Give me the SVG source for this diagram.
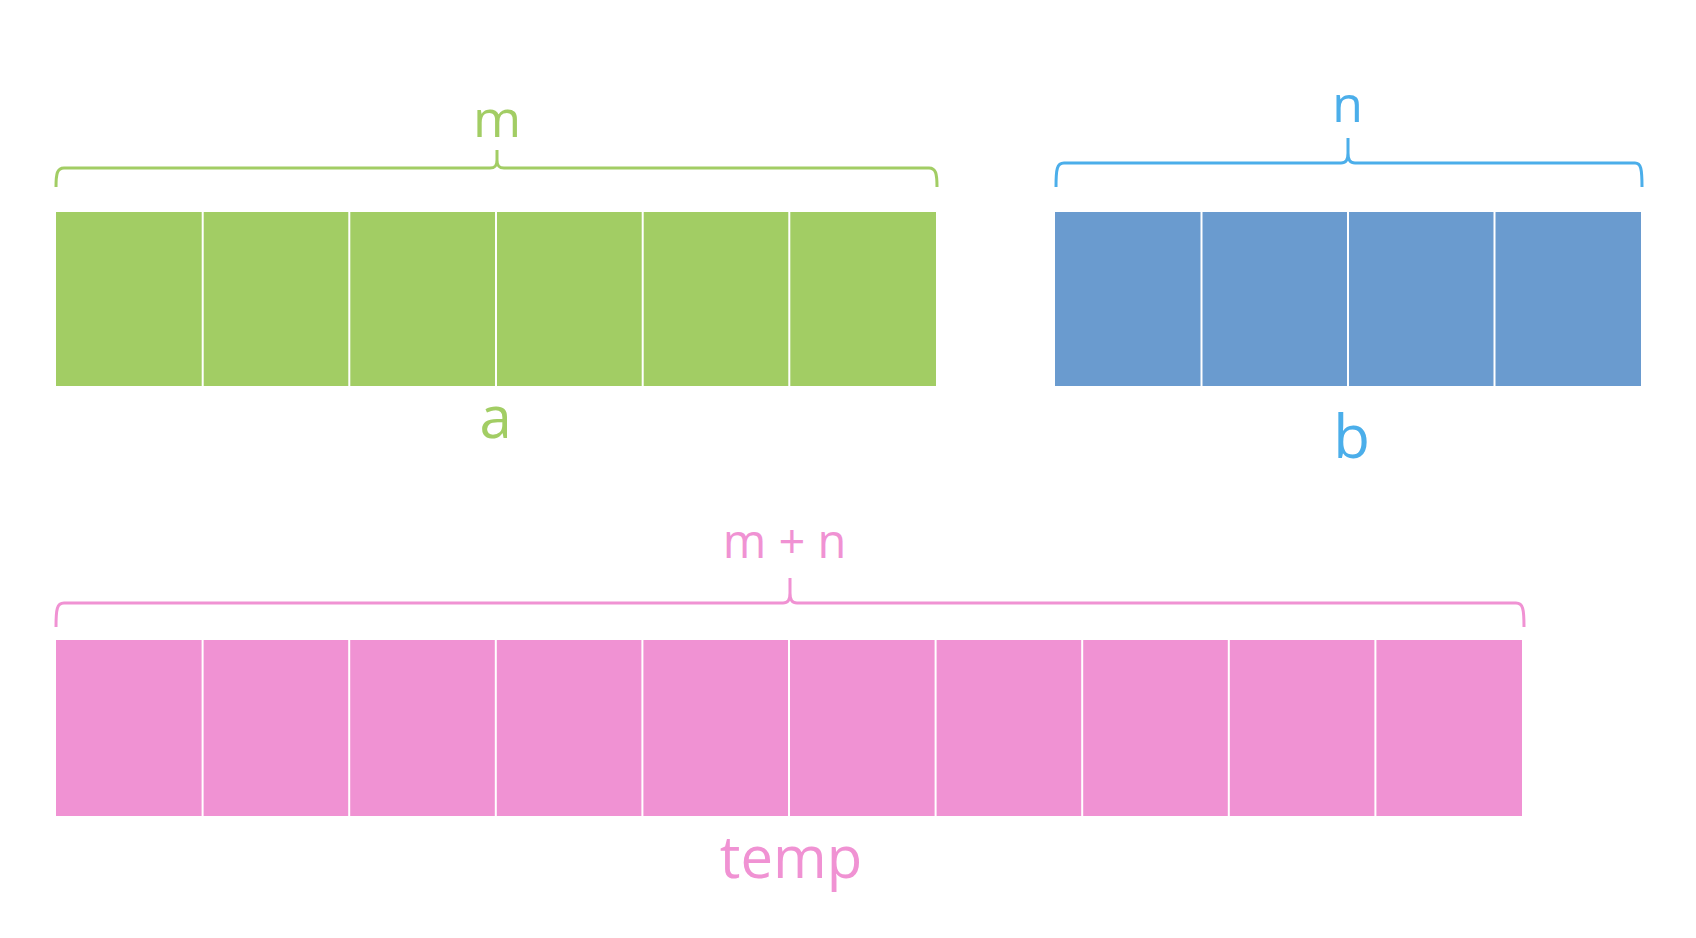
<svg xmlns="http://www.w3.org/2000/svg" width="1696" height="938" viewBox="0 0 1696 938">
<style>
.g{fill:#A2CD64}
.bl{fill:#6A9BCF}
.p{fill:#F092D3}
.div{stroke:#ffffff;stroke-width:2}
.brace{fill:none;stroke-width:3;stroke-linejoin:round;stroke-linecap:butt}
.lbl{font-family:"Open Sans","Noto Sans",sans-serif;text-anchor:middle}
</style>
<rect width="1696" height="938" fill="#ffffff"/>
<g id="array-a">
<rect class="g" x="56" y="212" width="880" height="174"/>
<g class="div">
<line x1="202.7" y1="212" x2="202.7" y2="386"/>
<line x1="349.3" y1="212" x2="349.3" y2="386"/>
<line x1="496" y1="212" x2="496" y2="386"/>
<line x1="642.7" y1="212" x2="642.7" y2="386"/>
<line x1="789.3" y1="212" x2="789.3" y2="386"/>
</g>
<text class="lbl" x="495.5" y="438" font-size="58" fill="#A2CD64">a</text>
</g>
<g id="array-b">
<rect class="bl" x="1055" y="212" width="586" height="174"/>
<g class="div">
<line x1="1201.5" y1="212" x2="1201.5" y2="386"/>
<line x1="1348" y1="212" x2="1348" y2="386"/>
<line x1="1494.5" y1="212" x2="1494.5" y2="386"/>
</g>
<text class="lbl" x="1351.5" y="458" font-size="60" fill="#4BAEEA">b</text>
</g>
<g id="array-temp">
<rect class="p" x="56" y="640" width="1466" height="176"/>
<g class="div">
<line x1="202.6" y1="640" x2="202.6" y2="816"/>
<line x1="349.2" y1="640" x2="349.2" y2="816"/>
<line x1="495.8" y1="640" x2="495.8" y2="816"/>
<line x1="642.4" y1="640" x2="642.4" y2="816"/>
<line x1="789" y1="640" x2="789" y2="816"/>
<line x1="935.6" y1="640" x2="935.6" y2="816"/>
<line x1="1082.2" y1="640" x2="1082.2" y2="816"/>
<line x1="1228.8" y1="640" x2="1228.8" y2="816"/>
<line x1="1375.4" y1="640" x2="1375.4" y2="816"/>
</g>
<text class="lbl" x="791" y="878" font-size="58" fill="#F092D3">temp</text>
</g>
<g id="brace-m">
<path class="brace" stroke="#A2CD64" d="M56,187 C56,174 57,168 64,168 L490,168 C495,168 497,166 497,160 L497,150 M497,160 C497,166 499,168 504,168 L929,168 C936,168 937,174 937,187"/>
<text class="lbl" x="497" y="137" font-size="52" fill="#A2CD64">m</text>
</g>
<g id="brace-n">
<path class="brace" stroke="#4BAEEA" d="M1056,187 C1056,169 1057,163 1064,163 L1341,163 C1346,163 1348,160 1348,153 L1348,138 M1348,153 C1348,160 1350,163 1355,163 L1635,163 C1641,163 1642,169 1642,187"/>
<text class="lbl" x="1347.5" y="122" font-size="50" fill="#4BAEEA">n</text>
</g>
<g id="brace-mn">
<path class="brace" stroke="#F092D3" d="M56,627 C56,609 57,603 64,603 L783,603 C788,603 790,600 790,593 L790,578 M790,593 C790,600 792,603 797,603 L1516,603 C1523,603 1524,609 1524,627"/>
<text class="lbl" x="784.5" y="558" font-size="47" fill="#F092D3">m + n</text>
</g>
</svg>
